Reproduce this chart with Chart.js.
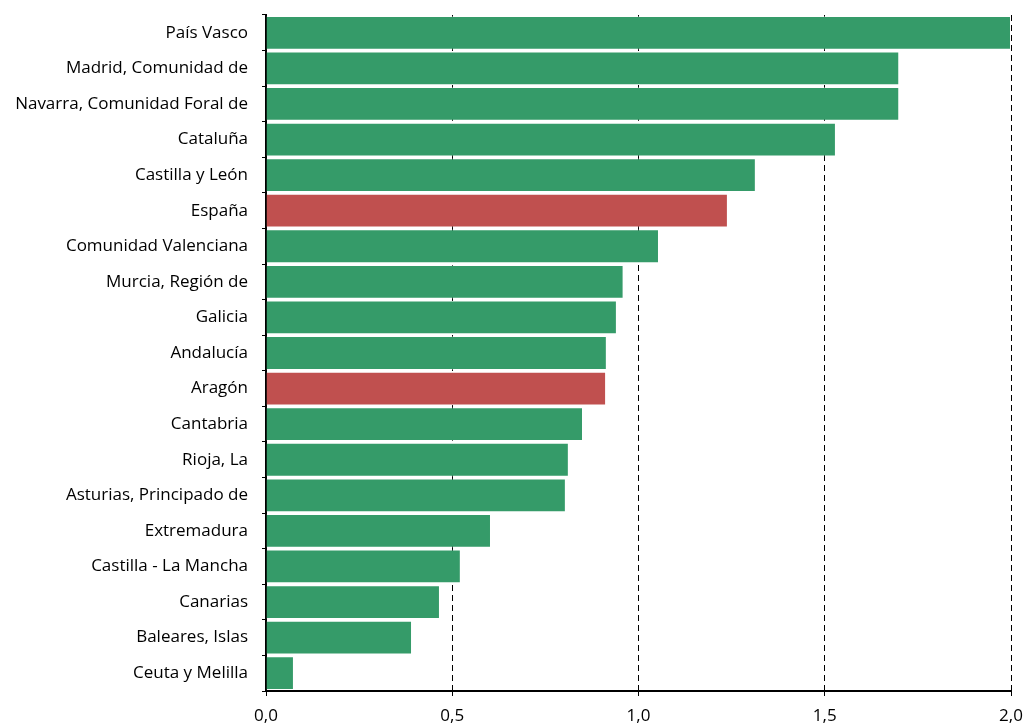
<!DOCTYPE html>
<html>
<head>
<meta charset="utf-8">
<script src="https://cdn.jsdelivr.net/npm/chart.js@4/dist/chart.umd.min.js"></script>
<style>
  html, body { margin: 0; padding: 0; background: #fff; }
  #wrap { width: 1024px; height: 725px; }
</style>
</head>
<body>
<div id="wrap"><canvas id="chart" width="1024" height="725"></canvas></div>
<script>
var regions = ['País Vasco', 'Madrid, Comunidad de', 'Navarra, Comunidad Foral de', 'Cataluña',
  'Castilla y León', 'España', 'Comunidad Valenciana', 'Murcia, Región de', 'Galicia', 'Andalucía',
  'Aragón', 'Cantabria', 'Rioja, La', 'Asturias, Principado de', 'Extremadura',
  'Castilla - La Mancha', 'Canarias', 'Baleares, Islas', 'Ceuta y Melilla'];
var values = [2.00, 1.70, 1.70, 1.53, 1.315, 1.24, 1.055, 0.96, 0.942, 0.915,
  0.913, 0.851, 0.813, 0.805, 0.604, 0.523, 0.467, 0.392, 0.075];
var highlighted = ['España', 'Aragón'];
var xTicks = [0, 0.5, 1.0, 1.5, 2.0];

var green = '#359b69';
var red = '#c0504f';
var barColors = regions.map(function (r) { return highlighted.indexOf(r) >= 0 ? red : green; });

var ctx = document.getElementById('chart').getContext('2d');
var chart = new Chart(ctx, {
  type: 'bar',
  data: {
    labels: regions,
    datasets: [{
      data: values,
      backgroundColor: barColors,
      borderColor: 'rgba(255,255,255,0.35)',
      borderWidth: 1,
      categoryPercentage: 1.0,
      barPercentage: 0.95
    }]
  },
  options: {
    indexAxis: 'y',
    responsive: false,
    animation: false,
    layout: { padding: { left: 0, right: 13, top: 15, bottom: 0 } },
    plugins: { legend: { display: false }, tooltip: { enabled: false } },
    scales: {
      x: {
        min: 0,
        max: 2.0,
        afterBuildTicks: function (axis) {
          axis.ticks = xTicks.map(function (v) { return { value: v }; });
        },
        afterFit: function (axis) {
          axis.height = 34;
          axis.paddingLeft = 0;
          axis.paddingRight = 0;
        },
        ticks: {
          color: '#000',
          font: { family: 'Open Sans', size: 17 },
          padding: 10,
          maxRotation: 0,
          callback: function (v) { return Number(v).toFixed(1).replace('.', ','); }
        },
        grid: {
          color: function (c) { return c.tick && c.tick.value === 0 ? 'rgba(0,0,0,0)' : '#000'; },
          lineWidth: 1,
          tickColor: '#000',
          tickLength: 5,
          tickWidth: 1
        },
        border: { display: true, color: '#000', width: 2, dash: [6, 4] }
      },
      y: {
        afterFit: function (axis) {
          axis.width = 266;
          axis.paddingTop = 0;
          axis.paddingBottom = 0;
        },
        ticks: {
          color: '#000',
          font: { family: 'Open Sans', size: 17 },
          padding: 14,
          autoSkip: false
        },
        grid: {
          drawOnChartArea: false,
          tickColor: '#000',
          tickLength: 4,
          tickWidth: 1
        },
        border: { display: true, color: '#000', width: 2 }
      }
    }
  }
});
</script>
</body>
</html>
